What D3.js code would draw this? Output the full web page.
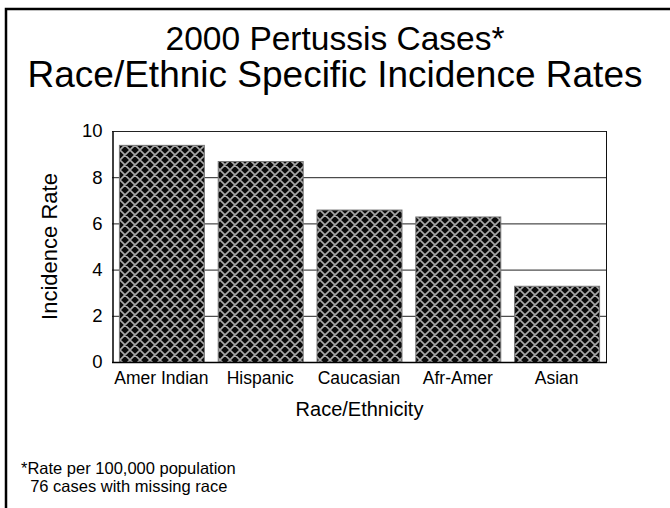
<!DOCTYPE html>
<html>
<head>
<meta charset="utf-8">
<script src="https://cdn.jsdelivr.net/npm/d3@7"></script>
<style>
  body { margin: 0; background: #fff; }
  svg { display: block; font-family: "Liberation Sans", Arial, sans-serif; }
</style>
</head>
<body>
<div id="chart"></div>
<script>
const categories = ['Amer Indian', 'Hispanic', 'Caucasian', 'Afr-Amer', 'Asian'];
const rates = [9.4, 8.7, 6.6, 6.3, 3.3];
const yTicks = [0, 2, 4, 6, 8, 10];
const titleLines = ['2000 Pertussis Cases*', 'Race/Ethnic Specific Incidence Rates'];
const footnotes = ['*Rate per 100,000 population', '  76 cases with missing race'];

const width = 670;
const height = 508;
const plot = { left: 112, right: 606, top: 131, bottom: 362 };

const svg = d3.select('#chart')
              .append('svg')
              .attr('width', width)
              .attr('height', height);

// crosshatch fill
const p = 10;
const pat = svg.append('defs').append('pattern')
               .attr('id', 'hatch')
               .attr('patternUnits', 'userSpaceOnUse')
               .attr('width', p)
               .attr('height', p);
pat.append('rect').attr('width', p).attr('height', p).attr('fill', '#0a0a0a');
pat.append('path')
   .attr('d', `M0,0L${p},${p}M${p},0L0,${p}M-1,${p - 1}L1,${p + 1}M${p - 1},-1L${p + 1},1M-1,1L1,-1M${p - 1},${p + 1}L${p + 1},${p - 1}`)
   .attr('stroke', '#a8a8a8')
   .attr('stroke-width', 1.6);

// frame
svg.append('path')
   .attr('d', `M6,${height}V9H${width}`)
   .attr('fill', 'none')
   .attr('stroke', '#000')
   .attr('stroke-width', 2.5);

const xScale = d3.scaleBand()
                 .domain(categories)
                 .range([plot.left, plot.right])
                 .paddingInner(0.14)
                 .paddingOuter(0.07);

const yScale = d3.scaleLinear()
                 .domain([0, 10])
                 .range([plot.bottom, plot.top]);

// gridlines
svg.append('g')
   .selectAll('line')
   .data(yTicks.filter(d => d > 0))
   .join('line')
   .attr('x1', plot.left)
   .attr('x2', plot.right)
   .attr('y1', d => yScale(d) + 0.5)
   .attr('y2', d => yScale(d) + 0.5)
   .attr('stroke', '#222')
   .attr('stroke-width', 1);

// right border of plot
svg.append('line')
   .attr('x1', plot.right + 0.5).attr('x2', plot.right + 0.5)
   .attr('y1', plot.top).attr('y2', plot.bottom)
   .attr('stroke', '#111');

// bars
svg.append('g')
   .selectAll('rect')
   .data(rates)
   .join('rect')
   .attr('x', (d, i) => xScale(categories[i]) + 0.5)
   .attr('y', d => yScale(d) + 0.5)
   .attr('width', xScale.bandwidth())
   .attr('height', d => yScale(0) - yScale(d))
   .attr('fill', 'url(#hatch)')
   .attr('stroke', '#777')
   .attr('stroke-width', 1);

// y axis
const yAxis = svg.append('g')
   .attr('transform', `translate(${plot.left + 0.5},0)`)
   .call(d3.axisLeft(yScale).tickValues(yTicks).tickSize(0).tickPadding(10));
yAxis.select('.domain').attr('stroke', '#000').attr('stroke-width', 1.5);
yAxis.selectAll('text').attr('font-size', 18.5).attr('fill', '#000')
     .attr('font-family', '"Liberation Sans", Arial, sans-serif');

// x axis
const xAxis = svg.append('g')
   .attr('transform', `translate(0,${plot.bottom + 0.5})`)
   .call(d3.axisBottom(xScale).tickSize(0).tickPadding(9));
xAxis.select('.domain').attr('stroke', '#000').attr('stroke-width', 1.5)
     .attr('d', `M${plot.left},0H${plot.right + 1}`);
xAxis.selectAll('text').attr('font-size', 17.5).attr('fill', '#000')
     .attr('font-family', '"Liberation Sans", Arial, sans-serif');

// title
const titleSizes = [33.5, 37];
svg.append('g')
   .selectAll('text')
   .data(titleLines)
   .join('text')
   .attr('x', 335)
   .attr('y', (d, i) => 50 + i * 37)
   .attr('text-anchor', 'middle')
   .attr('font-size', (d, i) => titleSizes[i])
   .text(d => d);

// axis titles
svg.append('text')
   .attr('x', (plot.left + plot.right) / 2 + 0.5)
   .attr('y', 416)
   .attr('text-anchor', 'middle')
   .attr('font-size', 20)
   .text('Race/Ethnicity');

svg.append('text')
   .attr('transform', `translate(57,${(plot.top + plot.bottom) / 2}) rotate(-90)`)
   .attr('text-anchor', 'middle')
   .attr('font-size', 22)
   .text('Incidence Rate');

// footnotes
svg.append('g')
   .selectAll('text')
   .data(footnotes)
   .join('text')
   .attr('x', 21)
   .attr('y', (d, i) => 474 + i * 18)
   .attr('font-size', 16.5)
   .attr('xml:space', 'preserve')
   .style('white-space', 'pre')
   .text(d => d);
</script>
</body>
</html>
